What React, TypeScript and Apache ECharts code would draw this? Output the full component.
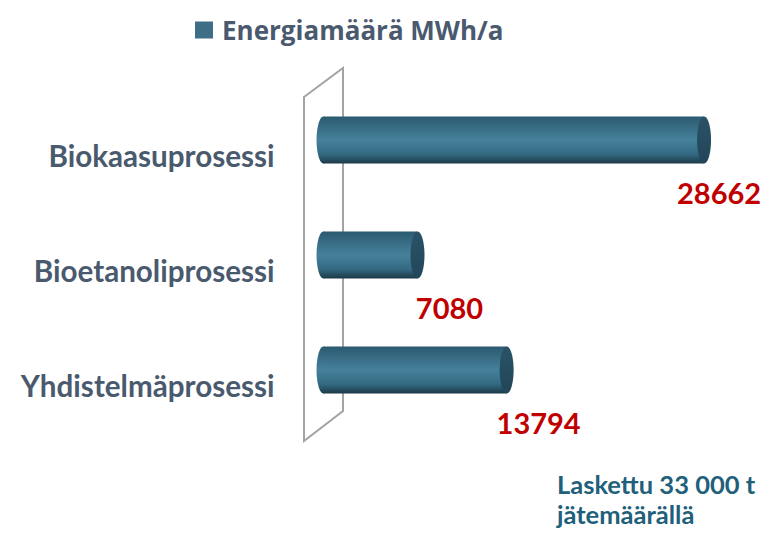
import React, { useEffect, useRef } from "react";
import * as echarts from "echarts";

const categories = ["Biokaasuprosessi", "Bioetanoliprosessi", "Yhdistelmäprosessi"];
const energy = [28662, 7080, 13794];
const seriesName = "Energiamäärä MWh/a";
const noteLines = ["Laskettu 33 000 t", "jätemäärällä"];
const axisMax = 30000;

const FONT = 'Lato, "Open Sans", sans-serif';
const LEGEND_FONT = '"Open Sans", Lato, sans-serif';
const TEXT_COLOR = "#4a5a6e";
const LABEL_COLOR = "#c00000";
const NOTE_COLOR = "#215f7a";

export default function App() {
  const ref = useRef<HTMLDivElement>(null);

  useEffect(() => {
    document.body.style.margin = "0";
    if (!ref.current) return;
    const chart = echarts.init(ref.current, null, { renderer: "svg" });

    const bodyGradient = new echarts.graphic.LinearGradient(0, 0, 0, 1, [
      { offset: 0, color: "#2b5a70" },
      { offset: 0.5, color: "#45819b" },
      { offset: 0.8, color: "#336a82" },
      { offset: 1, color: "#1c3948" },
    ]);
    const capGradient = new echarts.graphic.LinearGradient(0, 0, 0, 1, [
      { offset: 0, color: "#2a5266" },
      { offset: 1, color: "#22465a" },
    ]);

    const barH = 47;

    const noteElements = noteLines.map((line, i) => ({
      type: "text",
      z: 10,
      left: 557,
      top: 471 + i * 30,
      style: {
        text: line,
        fontFamily: FONT,
        fontWeight: "bold",
        fontSize: 25.5,
        lineHeight: 26,
        fill: NOTE_COLOR,
      },
    }));

    const option = {
      animation: false,
      legend: {
        left: 190,
        top: 12,
        icon: "rect",
        itemWidth: 18,
        itemHeight: 17,
        data: [{ name: seriesName, itemStyle: { color: "#3d6e86" } }],
        textStyle: {
          fontFamily: LEGEND_FONT,
          fontWeight: "bold",
          fontSize: 26,
          color: TEXT_COLOR,
          padding: [0, 0, 0, 4],
        },
      },
      grid: { left: 323.5, right: 45.2, top: 82.5, height: 345 },
      xAxis: {
        type: "value",
        min: 0,
        max: axisMax,
        show: false,
      },
      yAxis: {
        type: "category",
        data: categories,
        inverse: true,
        axisLine: { show: false },
        axisTick: { show: false },
        axisLabel: {
          margin: 49,
          fontFamily: FONT,
          fontWeight: "bold",
          fontSize: 29.6,
          color: TEXT_COLOR,
          verticalAlign: "top",
          lineHeight: 31,
        },
      },
      graphic: {
        elements: [
          {
            type: "polygon",
            z: 0,
            shape: {
              points: [
                [304, 97],
                [343, 68],
                [343, 411],
                [304, 441],
              ],
            },
            style: { fill: "none", stroke: "#a3a3a3", lineWidth: 2 },
          },
          ...noteElements,
        ],
      },
      series: [
        {
          type: "pictorialBar",
          symbol: "circle",
          symbolSize: [14, barH],
          symbolPosition: "start",
          symbolOffset: ["-50%", 0],
          z: 3,
          itemStyle: { color: bodyGradient },
          data: energy,
          silent: true,
        },
        {
          name: seriesName,
          type: "bar",
          barWidth: barH,
          z: 4,
          itemStyle: { color: bodyGradient },
          data: energy.map((v, i) => ({
            value: v,
            label: { offset: [i === 0 ? 15 : 32, 52] },
          })),
          label: {
            show: true,
            position: "right",
            distance: 0,
            align: "center",
            verticalAlign: "middle",
            fontFamily: FONT,
            fontWeight: "bold",
            fontSize: 29,
            color: LABEL_COLOR,
          },
        },
        {
          type: "pictorialBar",
          symbol: "circle",
          symbolSize: [14, barH],
          symbolPosition: "end",
          symbolOffset: ["50%", 0],
          z: 5,
          itemStyle: { color: capGradient },
          data: energy,
          silent: true,
        },
      ],
    };

    chart.setOption(option as any);
    return () => chart.dispose();
  }, []);

  return <div ref={ref} style={{ width: 767, height: 534 }} />;
}
